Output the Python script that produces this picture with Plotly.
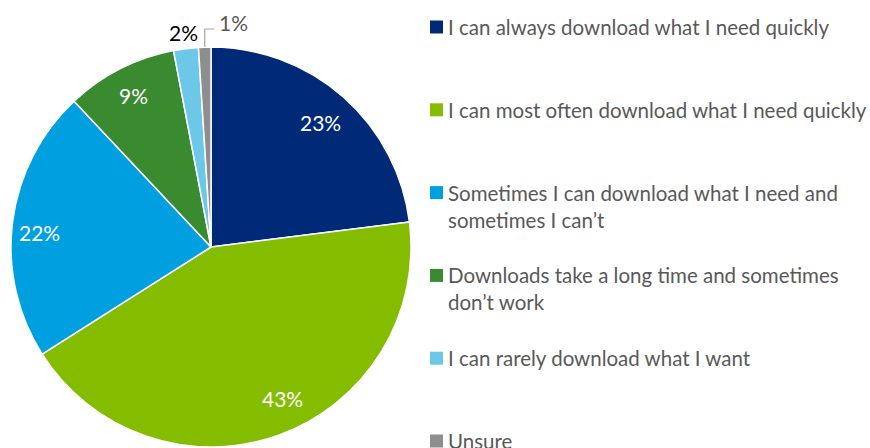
import math
import plotly.graph_objects as go

# ---- data ----
categories = [
    "I can always download what I need quickly",
    "I can most often download what I need quickly",
    "Sometimes I can download what I need and<br>sometimes I can\u2019t",
    "Downloads take a long time and sometimes<br>don\u2019t work",
    "I can rarely download what I want",
    "Unsure",
]
values = [23, 43, 22, 9, 2, 1]
colors = ["#002A78", "#84BD00", "#00A0E0", "#3A8A30", "#6CC8E8", "#8E8E8E"]

# ---- layout geometry (pixels) / label styling ----
W, H = 870, 448
CX, CY, R = 211, 247, 200
FONT = "Lato"
TEXT_GREY = "#595959"
# per-slice label placement (radius fraction, angular nudge in degrees), mimicking Excel "best fit"
label_radius = [0.83, 0.835, 0.86, 0.85, 1.08, 1.09]
label_nudge = [0.0, -5.4, -2.2, 0.0, 0.0, 0.0]


def px_x(x):
    return x / W


def px_y(y):
    return 1 - y / H


fig = go.Figure(
    go.Pie(
        labels=categories,
        values=values,
        marker=dict(colors=colors, line=dict(color="white", width=1.5)),
        sort=False,
        direction="clockwise",
        rotation=0,
        textinfo="none",
        hoverinfo="label+percent",
        showlegend=False,
        domain=dict(x=[px_x(CX - R), px_x(CX + R)], y=[px_y(CY + R), px_y(CY - R)]),
    )
)

annotations = []
shapes = []
total = sum(values)
cum = 0
for i, v in enumerate(values):
    mid = (cum + v / 2) / total * 2 * math.pi + math.radians(label_nudge[i])
    cum += v
    s, c = math.sin(mid), math.cos(mid)
    f = label_radius[i]
    label = f"{v}%"
    if v >= 5:
        annotations.append(dict(
            x=px_x(CX + f * R * s), y=px_y(CY - f * R * c), xref="paper", yref="paper",
            text=label, showarrow=False, xanchor="center", yanchor="middle",
            font=dict(family=FONT, size=21, color="white")))
    elif v >= 2:
        annotations.append(dict(
            x=px_x(CX + f * R * s), y=px_y(CY - f * R * c), xref="paper", yref="paper",
            text=label, showarrow=False, xanchor="center", yanchor="middle",
            font=dict(family=FONT, size=21, color="black")))
    else:
        ex, ey = CX + R * s, CY - R * c
        ly = CY - f * R
        shapes.append(dict(type="path", xref="paper", yref="paper",
                           path=f"M {px_x(ex)},{px_y(ey)} L {px_x(ex)},{px_y(ly)} L {px_x(ex + 10)},{px_y(ly)}",
                           line=dict(color="#A6A6A6", width=1.2)))
        annotations.append(dict(
            x=px_x(ex + 12), y=px_y(ly - 6), xref="paper", yref="paper",
            text=label, showarrow=False, xanchor="left", yanchor="middle",
            font=dict(family=FONT, size=21, color=TEXT_GREY)))

# ---- custom legend ----
LEG_X0, SQ = 430, 13
LEG_Y0, LEG_DY = 27, 82.8
for i, (cat, col) in enumerate(zip(categories, colors)):
    yc = LEG_Y0 + i * LEG_DY
    shapes.append(dict(type="rect", xref="paper", yref="paper",
                       x0=px_x(LEG_X0), x1=px_x(LEG_X0 + SQ),
                       y0=px_y(yc + SQ / 2), y1=px_y(yc - SQ / 2),
                       fillcolor=col, line=dict(width=0)))
    annotations.append(dict(
        x=px_x(LEG_X0 + SQ + 3), y=px_y(yc - 14), xref="paper", yref="paper",
        text=cat, showarrow=False, xanchor="left", yanchor="top", align="left",
        font=dict(family=FONT, size=20.5, color=TEXT_GREY)))

fig.update_layout(
    width=W, height=H,
    margin=dict(l=0, r=0, t=0, b=0),
    paper_bgcolor="white", plot_bgcolor="white",
    annotations=annotations, shapes=shapes,
)

fig.write_html("out.html", config={"displayModeBar": False},
               post_script="document.body.style.margin='0';")
